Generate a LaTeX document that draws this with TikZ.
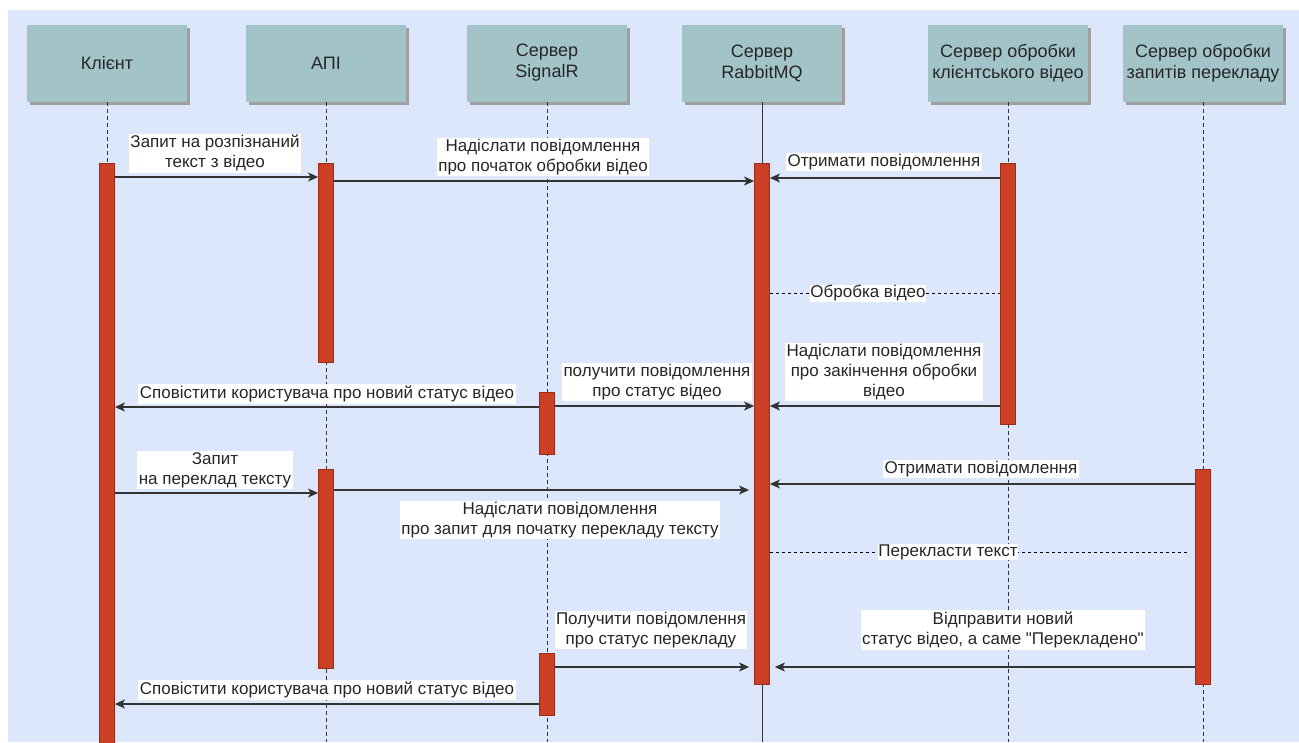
\documentclass[tikz,border=0pt]{standalone}
\usepackage{fontspec}
\setmainfont{Liberation Sans}
\newfontfamily\qfont{Liberation Sans}
\usetikzlibrary{arrows.meta,shadows}
\definecolor{panel}{HTML}{DDE7FC}
\definecolor{headfill}{HTML}{A2C4C9}
\definecolor{barfill}{HTML}{CC4125}
\definecolor{barline}{HTML}{9B2A18}
\definecolor{lineclr}{HTML}{333333}
\tikzset{
  head/.style={draw=none, fill=headfill, minimum width=160pt, minimum height=77pt,
    align=center, font=\fontsize{18}{21}\selectfont, text=black!85,
    drop shadow={shadow xshift=3pt, shadow yshift=-3pt, fill=gray!75, opacity=1}},
  actbar/.style={draw=barline, fill=barfill, line width=0.8pt, minimum width=15pt, anchor=north, inner sep=0pt},
  life/.style={draw=lineclr, line width=0.8pt, dash pattern=on 4pt off 3pt},
  msg/.style={draw=lineclr, line width=1.3pt, -{Stealth[length=10pt,width=9pt,inset=2.5pt]}},
  ret/.style={draw=black, line width=0.8pt, dash pattern=on 3pt off 3pt},
  lbl/.style={fill=white, inner sep=1.5pt, align=center, font=\fontsize{17}{20}\selectfont, text=black!85}
}
\begin{document}
\begin{tikzpicture}[x=1pt,y=-1pt]
\useasboundingbox (0,0) rectangle (1299,742);
\fill[panel] (8,10) rectangle (1299,742);
% headers
\node[head] (hk) at (107,63) {Клієнт};
\node[head] (ha) at (326,63) {АПІ};
\node[head] (hs) at (547,63) {Сервер\\SignalR};
\node[head] (hr) at (762,63) {Сервер\\RabbitMQ};
\node[head] (hv) at (1008,63) {Сервер обробки\\клієнтського відео};
\node[head] (ht) at (1203,63) {Сервер обробки\\запитів перекладу};
% lifeline ends
\coordinate (ek) at (107,742);
\coordinate (ea) at (326,742);
\coordinate (es) at (547,742);
\coordinate (er) at (762,742);
\coordinate (ev) at (1008,742);
\coordinate (et) at (1203,742);
\draw[life] (hk.south) -- (ek);
\draw[life] (ha.south) -- (ea);
\draw[life] (hs.south) -- (es);
\draw[draw=lineclr, line width=1pt] (hr.south) -- (er);
\draw[life] (hv.south) -- (ev);
\draw[life] (ht.south) -- (et);
% activation bars
\node[actbar, minimum height=590pt] (bk) at (107,163) {};
\node[actbar, minimum height=199pt] (ba1) at (326,163) {};
\node[actbar, minimum height=199pt] (ba2) at (326,469) {};
\node[actbar, minimum height=62pt] (bs1) at (547,392) {};
\node[actbar, minimum height=62pt] (bs2) at (547,653) {};
\node[actbar, minimum height=521pt] (br) at (762,163) {};
\node[actbar, minimum height=261pt] (bv) at (1008,163) {};
\node[actbar, minimum height=215pt] (bt) at (1203,469) {};
% messages
\draw[msg] (bk.east |- 0,177) -- (ba1.west |- 0,177);
\node[lbl] (l1) at (215,153) {Запит на розпізнаний\\текст з відео};
\draw[msg] (ba1.east |- 0,181) -- (br.west |- 0,181);
\node[lbl] (l2) at (543,157) {Надіслати повідомлення\\про початок обробки відео};
\draw[msg] (bv.west |- 0,178) -- (br.east |- 0,178);
\node[lbl] (l3) at (884,162) {Отримати повідомлення};
\draw[ret] (br.east |- 0,293) -- (bv.west |- 0,293);
\node[lbl, inner sep=0.5pt] (l4) at (868,293) {Обробка відео};
\draw[msg] (bv.west |- 0,406) -- (br.east |- 0,406);
\node[lbl] (l5) at (884,372) {Надіслати повідомлення\\про закінчення обробки\\відео};
\draw[msg] (bs1.east |- 0,406) -- (br.west |- 0,406);
\node[lbl] (l6) at (657,382) {получити повідомлення\\про статус відео};
\draw[msg] (bs1.west |- 0,407) -- (bk.east |- 0,407);
\node[lbl] (l7) at (327,394) {Сповістити користувача про новий статус відео};
\draw[msg] (bk.east |- 0,493) -- (ba2.west |- 0,493);
\node[lbl] (l8) at (215,470) {Запит\\на переклад тексту};
\draw[msg] (ba2.east |- 0,490) -- ([xshift=-5pt]br.west |- 0,490);
\node[lbl] (l9) at (560,520) {Надіслати повідомлення\\про запит для початку перекладу тексту};
\draw[msg] (bt.west |- 0,484) -- (br.east |- 0,484);
\node[lbl] (l10) at (981,469) {Отримати повідомлення};
\coordinate (tx) at (1188,552);
\draw[ret] (br.east |- 0,552) -- (tx);
\node[lbl, inner sep=0.5pt] (l11) at (948,552) {Перекласти текст};
\draw[msg] (bs2.east |- 0,667) -- ([xshift=-5pt]br.west |- 0,667);
\node[lbl] (l12) at (651,630) {Получити повідомлення\\про статус перекладу};
\draw[msg] (bt.west |- 0,667) -- ([xshift=5pt]br.east |- 0,667);
\node[lbl] (l13) at (1003,630) {Відправити новий\\статус відео, а саме {\qfont"}Перекладено{\qfont"}};
\draw[msg] (bs2.west |- 0,704) -- (bk.east |- 0,704);
\node[lbl] (l14) at (327,690) {Сповістити користувача про новий статус відео};
\end{tikzpicture}
\end{document}
